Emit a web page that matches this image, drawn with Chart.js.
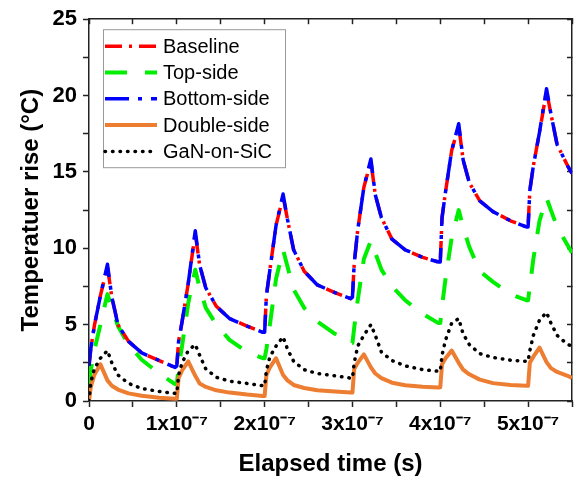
<!DOCTYPE html>
<html>
<head>
<meta charset="utf-8">
<script src="https://cdn.jsdelivr.net/npm/chart.js@4.4.1/dist/chart.umd.min.js"></script>
<style>
  html, body { margin: 0; padding: 0; background: #fff; }
  #wrap { width: 577px; height: 481px; }
</style>
</head>
<body>
<div id="wrap"><canvas id="chart" width="577" height="481"></canvas></div>
<script>
// elapsed time, in units of 1e-7 s
const timeE7 = [
  0, 0.02, 0.06, 0.13, 0.21, 0.26, 0.33, 0.45, 0.6, 0.8, 0.98,
  1, 1.02, 1.06, 1.13, 1.21, 1.26, 1.33, 1.45, 1.6, 1.8, 1.98,
  2, 2.02, 2.06, 2.13, 2.21, 2.26, 2.33, 2.45, 2.6, 2.8, 2.98,
  3, 3.02, 3.06, 3.13, 3.21, 3.26, 3.33, 3.45, 3.6, 3.8, 3.98,
  4, 4.02, 4.06, 4.13, 4.21, 4.26, 4.33, 4.45, 4.6, 4.8, 4.98,
  5, 5.02, 5.06, 5.13, 5.21, 5.26, 5.33, 5.45, 5.5
];

// temperature rise (°C)
const baseline = [
  2.3, 3.4, 4.9, 6.9, 8.8, 6.8, 5.0, 3.9, 3.15, 2.65, 2.2,
  2.3, 3.9, 5.2, 7.7, 11.0, 8.9, 7.4, 6.2, 5.4, 4.9, 4.5,
  4.5, 6.9, 8.6, 11.5, 13.4, 11.9, 9.9, 8.5, 7.6, 7.1, 6.7,
  6.8, 9.0, 11.2, 14.0, 15.7, 13.5, 12.0, 10.6, 9.9, 9.4, 9.1,
  9.1, 12.0, 13.7, 16.4, 18.0, 15.8, 14.3, 13.1, 12.4, 11.8, 11.4,
  11.4, 13.8, 15.4, 17.6, 20.3, 18.8, 16.8, 15.4, 14.9
];
const topSide = [
  1.0, 2.0, 3.3, 5.0, 7.0, 6.1, 4.9, 3.7, 2.7, 1.8, 1.1,
  1.1, 2.2, 3.6, 6.4, 8.6, 7.4, 6.1, 5.0, 4.0, 3.2, 2.8,
  2.8, 3.4, 5.0, 8.0, 9.9, 8.8, 7.3, 6.1, 5.2, 4.4, 3.8,
  3.8, 4.8, 6.6, 9.3, 10.5, 9.7, 8.6, 7.5, 6.6, 5.7, 5.1,
  5.1, 6.2, 8.0, 10.7, 12.5, 11.4, 10.1, 8.5, 7.8, 7.0, 6.6,
  6.6, 7.5, 9.3, 11.8, 13.3, 12.5, 11.4, 10.2, 9.7
];
const bottomSide = [
  2.3, 3.4, 4.9, 6.9, 8.95, 6.8, 5.0, 3.9, 3.15, 2.65, 2.2,
  2.3, 3.9, 5.2, 7.7, 11.15, 8.9, 7.4, 6.2, 5.4, 4.9, 4.5,
  4.5, 6.9, 8.6, 11.5, 13.55, 11.9, 9.9, 8.5, 7.6, 7.1, 6.7,
  6.8, 9.0, 11.2, 14.0, 15.85, 13.5, 12.0, 10.6, 9.9, 9.4, 9.1,
  9.1, 12.0, 13.7, 16.4, 18.15, 15.8, 14.3, 13.1, 12.4, 11.8, 11.4,
  11.4, 13.8, 15.4, 17.6, 20.45, 18.8, 16.8, 15.4, 14.9
];
const doubleSide = [
  0, 0.9, 1.7, 2.4, 1.35, 1.0, 0.75, 0.5, 0.35, 0.22, 0.15,
  0.15, 1.5, 2.0, 2.6, 1.65, 1.15, 0.92, 0.7, 0.55, 0.42, 0.33,
  0.33, 1.7, 2.2, 2.8, 1.7, 1.35, 1.05, 0.85, 0.7, 0.62, 0.55,
  0.55, 2.1, 2.5, 3.05, 2.2, 1.8, 1.5, 1.2, 1.03, 0.93, 0.88,
  0.9, 2.4, 2.8, 3.3, 2.5, 2.05, 1.75, 1.4, 1.17, 1.05, 1.0,
  1.0, 2.5, 2.9, 3.5, 2.55, 2.15, 1.9, 1.65, 1.5
];
const ganOnSiC = [
  0, 1.2, 2.1, 2.8, 3.3, 2.5, 1.7, 1.15, 0.82, 0.62, 0.5,
  0.5, 1.7, 2.5, 3.3, 3.7, 3.0, 2.1, 1.55, 1.3, 1.15, 1.0,
  1.0, 2.0, 2.9, 3.6, 4.2, 3.4, 2.6, 2.05, 1.8, 1.65, 1.5,
  1.5, 2.5, 3.6, 4.3, 5.0, 4.3, 3.2, 2.65, 2.3, 2.05, 1.95,
  1.95, 3.0, 4.0, 5.1, 5.4, 4.4, 3.7, 3.1, 2.85, 2.67, 2.6,
  2.6, 3.3, 4.3, 5.3, 5.8, 5.1, 4.3, 3.7, 3.6
];

const seriesNames = ['Baseline', 'Top-side', 'Bottom-side', 'Double-side', 'GaN-on-SiC'];
const yTicks = [0, 5, 10, 15, 20, 25];
const xTickE7 = [0, 1, 2, 3, 4, 5];

const FONT = '"Liberation Sans", Arial, sans-serif';
const AXIS = '#222';

function points(vals) {
  return vals.map((v, i) => ({ x: timeE7[i], y: v }));
}

// legend drawn inside the plot with a thin frame, like the original figure
const boxLegend = {
  id: 'boxLegend',
  afterDraw(chart) {
    const { ctx, chartArea } = chart;
    const x0 = chartArea.left + 14;
    const y0 = chartArea.top + 10;
    const rowH = 26.3;
    ctx.save();
    ctx.strokeStyle = '#999';
    ctx.lineWidth = 1;
    ctx.strokeRect(x0 + 0.5, y0 + 0.5, 182, 138);
    chart.data.datasets.forEach((ds, i) => {
      const y = y0 + 17 + i * rowH;
      ctx.beginPath();
      ctx.setLineDash(ds.borderDash || []);
      ctx.lineCap = ds.borderCapStyle || 'butt';
      ctx.strokeStyle = ds.borderColor;
      ctx.lineWidth = ds.borderWidth;
      ctx.moveTo(x0 + 2, y);
      ctx.lineTo(x0 + 54, y);
      ctx.stroke();
      ctx.setLineDash([]);
      ctx.fillStyle = '#000';
      ctx.font = '20px ' + FONT;
      ctx.textBaseline = 'middle';
      ctx.fillText(ds.label, x0 + 60, y + 1);
    });
    ctx.restore();
  }
};

const tickGrid = (len) => ({
  drawOnChartArea: false,
  drawTicks: true,
  tickLength: len,
  tickColor: AXIS,
  tickWidth: 1.5
});
const frameBorder = { display: true, color: AXIS, width: 1.5 };

new Chart(document.getElementById('chart'), {
  type: 'line',
  data: {
    datasets: [
      {
        label: seriesNames[0], data: points(baseline),
        borderColor: '#ff0000', borderWidth: 3.5, borderDash: [17, 7, 3, 7], order: 3
      },
      {
        label: seriesNames[1], data: points(topSide),
        borderColor: '#00ee00', borderWidth: 4, borderDash: [22, 18], order: 4
      },
      {
        label: seriesNames[2], data: points(bottomSide),
        borderColor: '#0000ff', borderWidth: 3.5, borderDash: [24, 9, 4, 9], order: 2
      },
      {
        label: seriesNames[3], data: points(doubleSide),
        borderColor: '#ed7d31', borderWidth: 4, order: 1
      },
      {
        label: seriesNames[4], data: points(ganOnSiC),
        borderColor: '#000000', borderWidth: 3.5, borderDash: [0.5, 7], borderCapStyle: 'round', order: 0
      }
    ]
  },
  options: {
    responsive: false,
    animation: false,
    layout: { padding: { left: 0, top: 15, right: 4, bottom: 0 } },
    elements: {
      point: { radius: 0 },
      line: { tension: 0, fill: false, borderJoinStyle: 'round' }
    },
    plugins: {
      legend: { display: false },
      tooltip: { enabled: false }
    },
    scales: {
      x: {
        type: 'linear',
        position: 'bottom',
        min: 0,
        max: 5.5,
        afterFit: (s) => { s.height = 80; },
        ticks: {
          stepSize: 0.5,
          autoSkip: false,
          maxRotation: 0,
          padding: 5,
          color: '#000',
          font: { family: FONT, size: 21, weight: 'bold' },
          callback: (v) => {
            if (!xTickE7.includes(v)) return '';
            return v === 0 ? '0' : v + 'x10\u207B\u2077';
          }
        },
        grid: tickGrid(6),
        border: frameBorder,
        title: {
          display: true,
          text: 'Elapsed time (s)',
          color: '#000',
          font: { family: FONT, size: 24, weight: 'bold' },
          padding: { top: 0, bottom: 2 }
        }
      },
      y: {
        position: 'left',
        min: 0,
        max: 25,
        afterFit: (s) => { s.width = 89; },
        ticks: {
          stepSize: 2.5,
          padding: 6,
          color: '#000',
          font: { family: FONT, size: 22, weight: 'bold' },
          callback: (v) => yTicks.includes(v) ? String(v) : ''
        },
        grid: tickGrid(6),
        border: frameBorder,
        title: {
          display: true,
          text: 'Temperatuer rise (°C)',
          color: '#000',
          font: { family: FONT, size: 24, weight: 'bold' },
          padding: { top: 17, bottom: 0 }
        }
      },
      xTop: {
        type: 'linear',
        position: 'top',
        min: 0,
        max: 5.5,
        afterFit: (s) => { s.height = 0; },
        ticks: { display: false, stepSize: 0.5 },
        grid: tickGrid(-5),
        border: frameBorder
      },
      yRight: {
        type: 'linear',
        position: 'right',
        min: 0,
        max: 25,
        afterFit: (s) => { s.width = 0; },
        ticks: { display: false, stepSize: 2.5 },
        grid: tickGrid(-5),
        border: frameBorder
      }
    }
  },
  plugins: [boxLegend]
});
</script>
</body>
</html>
